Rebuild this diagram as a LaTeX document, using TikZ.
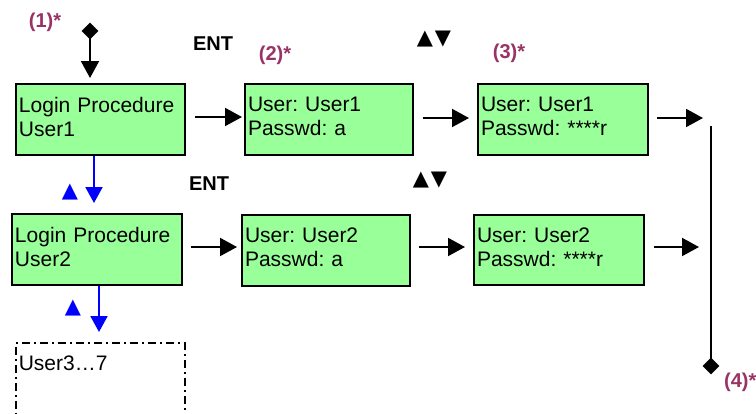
\documentclass[tikz,border=0pt]{standalone}
\usepackage{fontspec}
\setmainfont{Liberation Sans}
\newfontfamily\symfont{DejaVu Sans}
\usetikzlibrary{arrows.meta,shapes.geometric}
\frenchspacing
\definecolor{boxgreen}{HTML}{99FF99}
\definecolor{lblpurple}{HTML}{993366}
\definecolor{arrblue}{HTML}{0000FF}
\tikzset{
  screen/.style={draw=black, line width=2pt, fill=boxgreen, rectangle, anchor=north west,
    inner xsep=3pt, inner ysep=0pt, align=left, minimum height=71pt,
    font=\fontsize{21}{24}\selectfont, execute at end node={\par\vspace{6pt}}},
  dashbox/.style={draw=black, line width=1.6pt, dash pattern=on 8pt off 4pt on 2pt off 4pt,
    rectangle, anchor=north west, inner xsep=3pt, inner ysep=0pt, align=left,
    minimum height=72pt, font=\fontsize{21}{24}\selectfont},
  flow/.style={line width=2pt, -{Triangle[length=17pt,width=18pt]}},
  blueflow/.style={line width=2pt, draw=arrblue, -{Triangle[length=16pt,width=17pt]}},
  marklbl/.style={text=lblpurple, font=\bfseries\fontsize{20}{22}\selectfont, inner sep=0pt},
  keylbl/.style={font=\bfseries\fontsize{20}{22}\selectfont, inner sep=0pt},
  symlbl/.style={font=\symfont\fontsize{21}{22}\selectfont, inner sep=0pt},
  endmark/.style={diamond, fill=black, minimum width=17pt, minimum height=17pt, inner sep=0pt},
}
\begin{document}
\begin{tikzpicture}[x=1pt,y=-1pt]
\clip (0,0) rectangle (756,413);
\useasboundingbox (0,0) rectangle (756,413);

% row 1
\node[screen, text width=163pt] (b1) at (15,83) {Login Procedure\\User1};
\node[screen, text width=162pt] (b2) at (244,83) {User: User1\\Passwd: a};
\node[screen, text width=164pt] (b3) at (477,83) {User: User1\\Passwd: ****r};
% row 2
\node[screen, text width=164pt] (b4) at (11,213) {Login Procedure\\User2};
\node[screen, text width=162pt] (b5) at (241,214) {User: User2\\Passwd: a};
\node[screen, text width=164pt, minimum height=70pt] (b6) at (473,214) {User: User2\\Passwd: ****r};
% row 3
\node[dashbox, text width=163pt] (u37) at (15,342) {User3…7\\\strut};

% labels
\node[marklbl] (l1) at (45,22) {(1)*};
\node[marklbl] (l2) at (275,55) {(2)*};
\node[marklbl] (l3) at (509,53) {(3)*};
\node[marklbl, anchor=west] (l4) at (724,382) {(4)*};
\node[keylbl] (ent1) at (213,44) {ENT};
\node[keylbl] (ent2) at (209,184) {ENT};
\node[symlbl] (ud1) at (434,39) {▲\kern2pt▼};
\node[symlbl] (ud2) at (430,180) {▲\kern2pt▼};
\node[symlbl, text=arrblue] (bu1) at (70,192) {▲};
\node[symlbl, text=arrblue] (bu2) at (73,308) {▲};

% connectors
\node[endmark] (d1) at (90,31) {};
\draw[flow, shorten >=5pt] (d1.center) -- (d1 |- b1.north);
\draw[flow, shorten <=9pt, shorten >=2pt] (b1.east |- 0,117) -- (b2.west |- 0,117);
\draw[flow, shorten <=9pt, shorten >=8pt] (b2.east |- 0,118) -- (b3.west |- 0,118);
\coordinate (e1) at (703,118);
\draw[flow, shorten <=8pt] (b3.east |- e1) -- (e1);
\coordinate (vt) at (711,126);
\node[endmark] (d2) at (711,366) {};
\draw[line width=2pt] (vt) -- (d2.center);
\draw[flow, shorten <=8pt, shorten >=4pt] (b4.east |- 0,247) -- (b5.west |- 0,247);
\draw[flow, shorten <=8pt, shorten >=8pt] (b5.east |- 0,247) -- (b6.west |- 0,247);
\coordinate (e2) at (699,247);
\draw[flow, shorten <=9pt] (b6.east |- e2) -- (e2);
\draw[blueflow, shorten >=10pt] ([xshift=-6.5pt]b1.south) -- ([xshift=-6.5pt]b1.south |- b4.north);
\draw[blueflow, shorten >=10pt] ([xshift=2pt]b4.south) -- ([xshift=2pt]b4.south |- u37.north);
\end{tikzpicture}
\end{document}
